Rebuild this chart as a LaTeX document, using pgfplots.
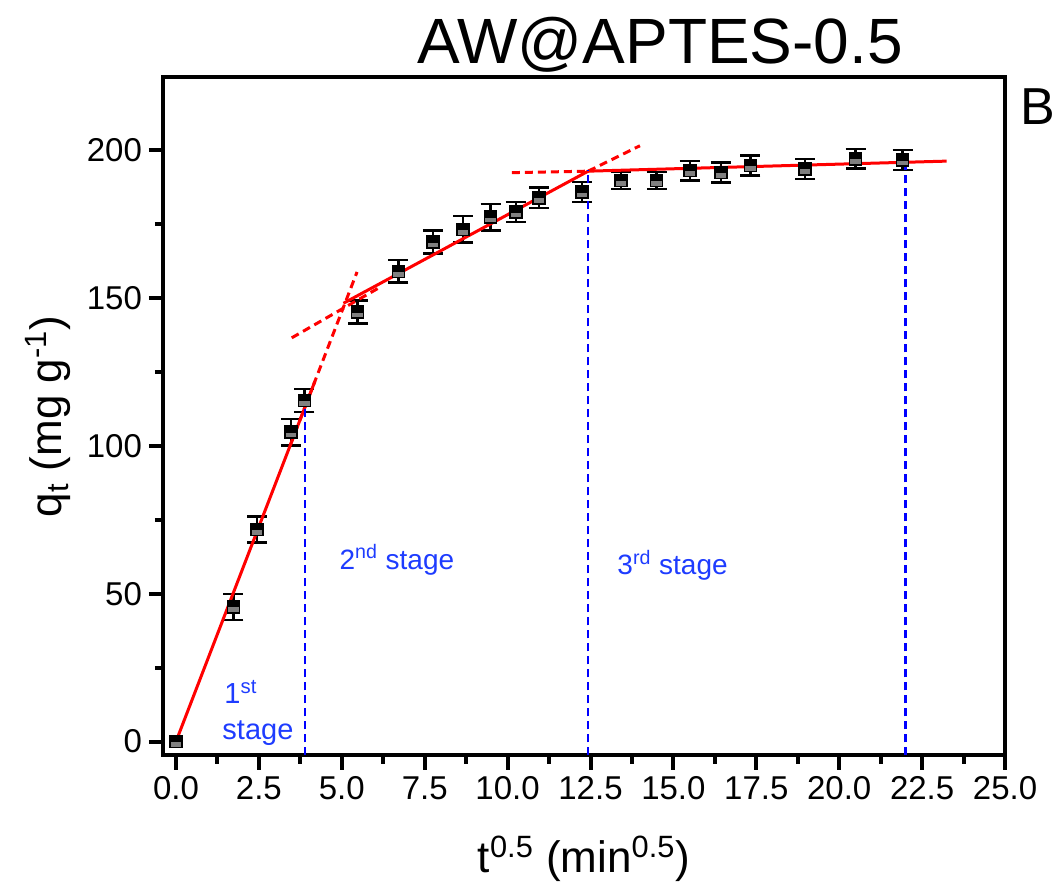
\documentclass[border=0pt]{standalone}
\usepackage{fontspec}
\setmainfont{Liberation Sans}
\usepackage{pgfplots}
\usepackage{pgfplotstable}
\pgfplotsset{compat=1.18}

\definecolor{stagetext}{RGB}{30,60,255}
\definecolor{guideblue}{RGB}{0,0,255}
\definecolor{markgray}{RGB}{128,128,128}

% square marker: grey lower half, black upper half, black outline
\pgfdeclareplotmark{halfsquare}{%
  \pgfpathrectangle{\pgfpoint{-\pgfplotmarksize}{-\pgfplotmarksize}}{\pgfpoint{2\pgfplotmarksize}{2\pgfplotmarksize}}%
  \pgfsetfillcolor{markgray}\pgfusepath{fill}%
  \pgfpathrectangle{\pgfpoint{-\pgfplotmarksize}{-0.1\pgfplotmarksize}}{\pgfpoint{2\pgfplotmarksize}{1.1\pgfplotmarksize}}%
  \pgfsetfillcolor{black}\pgfusepath{fill}%
  \pgfpathrectangle{\pgfpoint{-\pgfplotmarksize}{-\pgfplotmarksize}}{\pgfpoint{2\pgfplotmarksize}{2\pgfplotmarksize}}%
  \pgfusepath{stroke}%
}

% t^0.5 (min^0.5), q_t (mg/g), standard deviation
\pgfplotstableread{
x      y      e
1.732  45.6   4.4
2.449  71.8   4.4
3.464  104.7  4.5
3.873  115.4  3.8
5.477  145.3  3.9
6.708  159.1  3.8
7.746  169.0  3.9
8.660  173.3  4.5
9.487  177.4  4.5
10.247 179.1  3.4
10.954 184.0  3.5
12.247 185.9  3.4
13.416 189.8  2.9
14.491 189.8  2.9
15.492 193.2  3.3
16.432 192.6  3.4
17.321 194.9  3.4
18.974 193.8  3.4
20.494 197.2  3.3
21.909 196.8  3.4
}\kinetics

\begin{document}
\begin{tikzpicture}
\useasboundingbox (-81.5pt,-65.75pt) rectangle (447.5pt,377.75pt);
\begin{axis}[
  at={(0pt,0pt)}, anchor=south west,
  scale only axis, width=421pt, height=339pt,
  xmin=-0.392, xmax=25, ymin=-4.73, ymax=224.7,
  axis line style={line width=2pt, line cap=rect},
  tick align=outside, xtick pos=bottom, ytick pos=left,
  major tick length=7pt, minor tick length=4pt,
  major tick style={line width=2pt, black},
  minor tick style={line width=2pt, black},
  xtick={0,2.5,5,7.5,10,12.5,15,17.5,20,22.5,25},
  ytick={0,50,100,150,200},
  minor x tick num=1, minor y tick num=1,
  xticklabel style={/pgf/number format/.cd, fixed, fixed zerofill, precision=1},
  yticklabel style={/pgf/number format/.cd, fixed, precision=0},
  /pgf/number format/assume math mode=true,
  ticklabel style={font=\fontsize{16.5}{18}\selectfont},
  label style={font=\fontsize{22}{24}\selectfont},
  xlabel={t\textsuperscript{0.5} (min\textsuperscript{0.5})},
  ylabel={q\textsubscript{t} (mg g\textsuperscript{-1})},
  xlabel style={at={(axis description cs:0.5,-0.1726)}, anchor=base},
  ylabel style={at={(axis description cs:-0.12,0.5)}, anchor=base},
  clip=false,
]
% measured uptake with error bars
\addplot[black, only marks, mark=halfsquare, mark size=3pt,
  mark options={line width=0.8pt, solid},
  error bars/.cd, y dir=both, y explicit,
  error bar style={line width=1.2pt, black},
  error mark options={rotate=90, line width=1.2pt, mark size=5pt, black}]
  table[x=x, y=y, y error=e] {\kinetics};
\addplot[black, only marks, mark=halfsquare, mark size=3pt,
  mark options={line width=0.8pt, solid}] coordinates {(0,0)};

% intra-particle diffusion fits: extensions
\addplot[red, line width=1.5pt, dash pattern=on 4pt off 2.5pt] coordinates {(3.44,100.1) (5.46,158.9)};
\addplot[red, line width=1.5pt, dash pattern=on 4pt off 2.5pt] coordinates {(3.49,136.6) (6.1,153.4)};
\addplot[red, line width=1.5pt, dash pattern=on 4pt off 2.5pt] coordinates {(12.43,193.0) (13.99,201.6)};
\addplot[red, line width=1.5pt, dash pattern=on 4pt off 2.5pt] coordinates {(10.13,192.5) (12.43,193.0)};
% fitted segments
\addplot[red, line width=1.5pt] coordinates {(0,0) (4.19,121.9)};
\addplot[red, line width=1.5pt] coordinates {(5.05,148.3) (12.43,193.0)};
\addplot[red, line width=1.5pt] coordinates {(12.43,193.0) (23.24,196.4)};

% stage boundaries
\addplot[guideblue, line width=1.3pt, dash pattern=on 4pt off 2.5pt] coordinates {(3.89,-4.73) (3.89,116.5)};
\addplot[guideblue, line width=1.3pt, dash pattern=on 4pt off 2.5pt] coordinates {(12.43,-4.73) (12.43,193.5)};
\addplot[guideblue, line width=1.3pt, dash pattern=on 4pt off 2.5pt] coordinates {(22.0,-4.73) (22.0,194.3)};

\node[anchor=base west, inner sep=0pt, text=stagetext, font=\fontsize{14.5}{17}\selectfont] at (axis cs:1.45,12.7) {1\textsuperscript{st}};
\node[anchor=base west, inner sep=0pt, text=stagetext, font=\fontsize{14.5}{17}\selectfont] at (axis cs:1.39,0.85) {stage};
\node[anchor=base west, inner sep=0pt, text=stagetext, font=\fontsize{14}{17}\selectfont] at (axis cs:4.92,58.3) {2\textsuperscript{nd} stage};
\node[anchor=base west, inner sep=0pt, text=stagetext, font=\fontsize{14}{17}\selectfont] at (axis cs:13.3,56.4) {3\textsuperscript{rd} stage};
\end{axis}
\node[anchor=base, inner sep=0pt, font=\fontsize{32}{35}\selectfont] at (248.5pt,345.75pt) {AW@APTES-0.5};
\node[anchor=base west, inner sep=0pt, font=\fontsize{26}{28}\selectfont] at (428.5pt,315.25pt) {B};
\end{tikzpicture}
\end{document}
